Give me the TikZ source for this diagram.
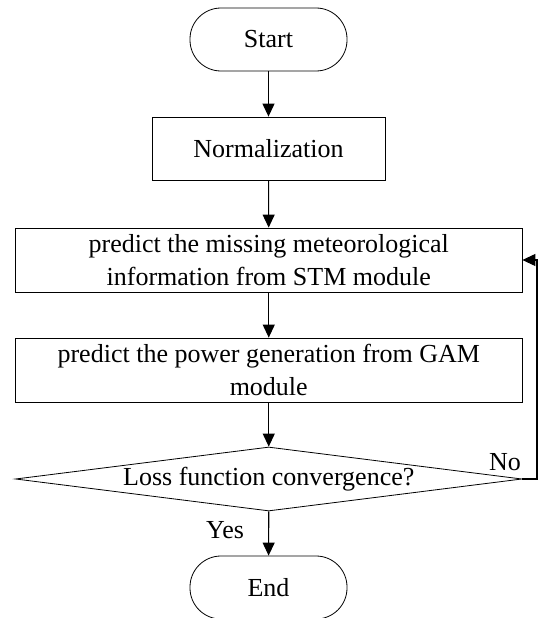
\documentclass[tikz,border=0pt]{standalone}
\usepackage{fontspec}
\setmainfont{Liberation Serif}
\usetikzlibrary{arrows.meta,shapes.geometric}
\begin{document}
\begin{tikzpicture}[x=1pt,y=1pt,
  txt/.style={font=\fontsize{26}{32.5}\selectfont},
  term/.style={txt,draw,line width=0.8pt,rounded corners=31pt,minimum width=157pt,minimum height=63pt,inner sep=0pt},
  proc/.style={txt,draw,line width=0.8pt,minimum height=64pt,inner sep=0pt,align=center},
  arr/.style={line width=1.1pt,-{Triangle[length=13pt,width=12pt]}}]
\useasboundingbox (0,0) rectangle (540,-618);
\node[term] (start) at (268.5,-39.5) {Start};
\node[proc,minimum width=233pt,minimum height=63pt] (norm) at (268.5,-148.5) {Normalization};
\node[proc,minimum width=506.5pt] (stm) at (268.75,-260) {predict the missing meteorological\\information from STM module};
\node[proc,minimum width=506.5pt] (gam) at (268.75,-370) {predict the power generation from GAM\\module};
\node[draw,line width=0.8pt,diamond,minimum width=506.5pt,minimum height=64pt,inner sep=0pt] (dec) at (268.75,-479) {};
\node[txt] (dectxt) at (dec.center) {Loss function convergence?};
\node[term] (end) at (268.5,-587.5) {End};
\node[txt] (no) at (505,-462) {No};
\node[txt] (yes) at (225,-530) {Yes};
\coordinate (back) at (537,-479);
\draw[arr] (start) -- (norm);
\draw[arr] (norm) -- (stm);
\draw[arr] (stm) -- (gam);
\draw[arr] (gam) -- (dec.north);
\draw[arr] (dec.south) -- (end);
\draw[arr] (dec.east) -- (back) |- (stm.east);
\end{tikzpicture}
\end{document}
